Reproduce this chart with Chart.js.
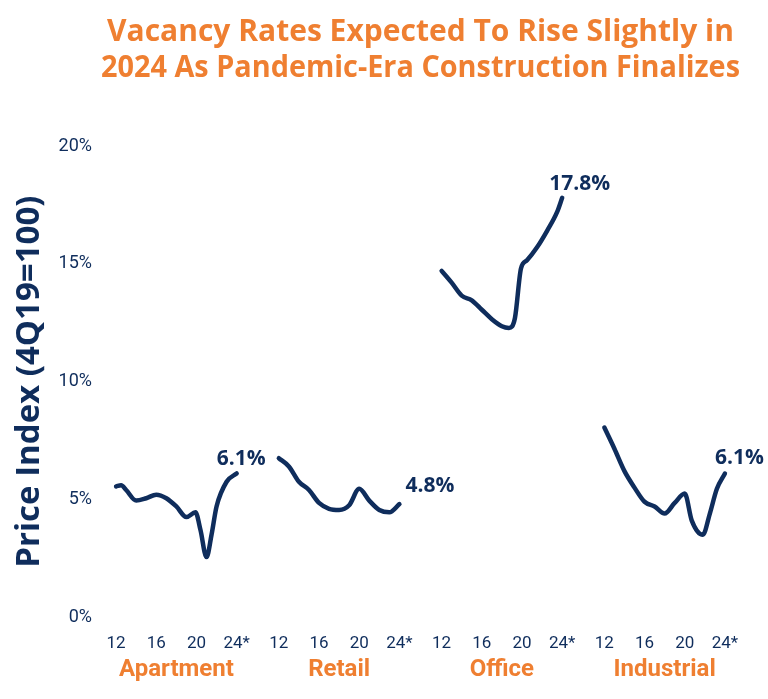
<!DOCTYPE html>
<html>
<head>
<meta charset="utf-8">
<script src="https://cdn.jsdelivr.net/npm/chart.js@4"></script>
<style>
  html, body { margin: 0; padding: 0; background: #ffffff; }
  #wrap { width: 768px; height: 699px; }
</style>
</head>
<body>
<div id="wrap"><canvas id="mainChart" width="768" height="699"></canvas></div>
<script>
const categories = ['Apartment', 'Retail', 'Office', 'Industrial'];
const yearTicks = [12, 16, 20, 24];
const yearTickLabels = ['12', '16', '20', '24*'];
const endLabels = ['6.1%', '4.8%', '17.8%', '6.1%'];

const apartmentYears = [2012, 2012.5, 2013, 2014, 2015, 2016, 2017, 2018, 2019, 2019.9, 2020.4, 2021, 2021.5, 2022, 2023, 2024];
const apartmentRates = [5.55, 5.6, 5.4, 4.95, 5.05, 5.2, 5.05, 4.7, 4.25, 4.45, 3.7, 2.55, 3.5, 4.7, 5.75, 6.1];

const retailYears = [2012, 2013, 2014, 2015, 2016, 2017, 2018, 2019, 2020, 2021, 2022, 2023, 2024];
const retailRates = [6.75, 6.4, 5.75, 5.4, 4.85, 4.6, 4.55, 4.75, 5.45, 4.95, 4.55, 4.45, 4.8];

const officeYears = [2012, 2013, 2014, 2015, 2016, 2017, 2018, 2018.7, 2019.3, 2019.9, 2020.5, 2021.5, 2022.5, 2023.5, 2024];
const officeRates = [14.7, 14.2, 13.65, 13.45, 13.05, 12.65, 12.35, 12.28, 12.7, 14.8, 15.15, 15.7, 16.4, 17.2, 17.8];

const industrialYears = [2012, 2013, 2014, 2015, 2016, 2017, 2018, 2019, 2020, 2020.7, 2021.8, 2022.5, 2023.2, 2024];
const industrialRates = [8.05, 7.15, 6.2, 5.5, 4.9, 4.7, 4.4, 4.85, 5.25, 4.1, 3.5, 4.4, 5.45, 6.1];

const navy = '#0f2d5c';
const orange = '#ef7f31';
const panelGap = 16.2;   // x units between the start of each panel
const labelOffsets = [[-20, -8], [6, -12], [-13, -8], [-10, -9]];

function panelPoints(panel, years, rates) {
    return years.map((yr, i) => ({ x: panel * panelGap + (yr - 2012), y: rates[i] }));
}

function makeDataset(panel, years, rates) {
    return {
        label: categories[panel],
        data: panelPoints(panel, years, rates),
        borderColor: navy,
        backgroundColor: navy,
        borderWidth: 4.5,
        borderCapStyle: 'round',
        borderJoinStyle: 'round',
        pointRadius: 0,
        cubicInterpolationMode: 'monotone'
    };
}

const endLabelPlugin = {
    id: 'endLabels',
    afterDatasetsDraw(chart) {
        const ctx = chart.ctx;
        ctx.save();
        ctx.font = 'bold 21px "Open Sans"';
        ctx.fillStyle = navy;
        ctx.textAlign = 'left';
        ctx.textBaseline = 'alphabetic';
        chart.data.datasets.forEach((dataset, i) => {
            const pts = chart.getDatasetMeta(i).data;
            const last = pts[pts.length - 1];
            ctx.fillText(endLabels[i], last.x + labelOffsets[i][0], last.y + labelOffsets[i][1]);
        });
        ctx.restore();
    }
};

function setupCanvas() {
    const ctx = document.getElementById('mainChart').getContext('2d');
    const data = {
        datasets: [
            makeDataset(0, apartmentYears, apartmentRates),
            makeDataset(1, retailYears, retailRates),
            makeDataset(2, officeYears, officeRates),
            makeDataset(3, industrialYears, industrialRates)
        ]
    };
    const config = {
        type: 'line',
        data: data,
        options: {
            responsive: false,
            animation: false,
            layout: {
                padding: { left: 4, right: 28, bottom: 13 }
            },
            scales: {
                x: {
                    type: 'linear',
                    position: 'bottom',
                    min: -1.5,
                    max: 3 * panelGap + 13.5,
                    grid: { display: false, drawTicks: false },
                    border: { display: false },
                    afterBuildTicks: (axis) => {
                        const ticks = [];
                        categories.forEach((c, p) => {
                            yearTicks.forEach((yr) => ticks.push({ value: p * panelGap + yr - 12 }));
                        });
                        axis.ticks = ticks;
                    },
                    afterFit: (axis) => {
                        axis.height = 36;
                    },
                    ticks: {
                        autoSkip: false,
                        maxRotation: 0,
                        padding: 16,
                        color: navy,
                        font: { family: 'Roboto', size: 17 },
                        callback: (value, index) => yearTickLabels[index % yearTickLabels.length]
                    }
                },
                x2: {
                    type: 'linear',
                    position: 'bottom',
                    min: -1.5,
                    max: 3 * panelGap + 13.5,
                    grid: { display: false, drawTicks: false },
                    border: { display: false },
                    afterBuildTicks: (axis) => {
                        axis.ticks = categories.map((c, p) => ({ value: p * panelGap + 6 }));
                    },
                    ticks: {
                        autoSkip: false,
                        maxRotation: 0,
                        padding: 2,
                        color: orange,
                        font: { family: 'Roboto', size: 24, weight: 'bold' },
                        callback: (value, index) => categories[index]
                    }
                },
                y: {
                    min: 0,
                    max: 20,
                    grid: { display: false, drawTicks: false },
                    border: { display: false },
                    ticks: {
                        stepSize: 5,
                        padding: 9,
                        color: navy,
                        font: { family: 'Roboto', size: 18 },
                        callback: (value) => value + '%'
                    },
                    title: {
                        display: true,
                        text: 'Price Index (4Q19=100)',
                        color: navy,
                        font: { family: 'Open Sans', size: 33, weight: 'bold' },
                        padding: { top: 6, bottom: 0 }
                    }
                }
            },
            plugins: {
                legend: { display: false },
                tooltip: { enabled: false },
                title: {
                    display: true,
                    fullSize: false,
                    text: ['Vacancy Rates Expected To Rise Slightly in', '2024 As Pandemic-Era Construction Finalizes'],
                    color: orange,
                    font: { family: 'Open Sans', size: 30, weight: 'bold', lineHeight: 1.2 },
                    padding: { top: 14, bottom: 60 }
                }
            }
        },
        plugins: [endLabelPlugin]
    };
    return new Chart(ctx, config);
}

const mainChart = setupCanvas();
</script>
</body>
</html>
